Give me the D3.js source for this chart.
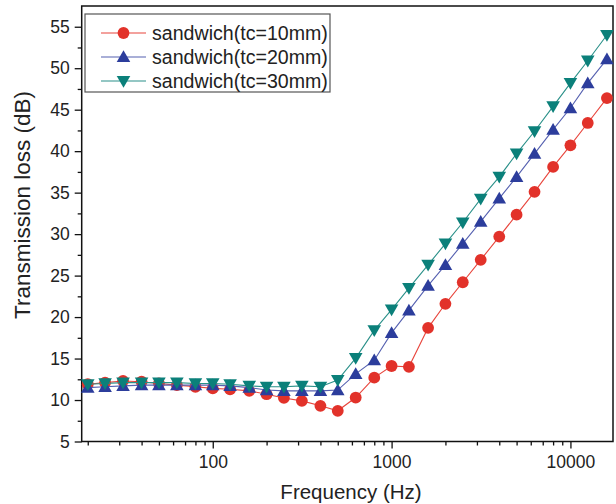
<!DOCTYPE html>
<html><head><meta charset="utf-8">
<script src="https://cdn.jsdelivr.net/npm/d3@7/dist/d3.min.js"></script>
<style>
html,body{margin:0;padding:0;background:#fff;}
svg{display:block;font-family:"Liberation Sans",Arial,Helvetica,sans-serif;}
</style></head>
<body>
<svg id="chart" width="616" height="504"></svg>
<script>
const freqs = [20,25,31.5,40,50,63,80,100,125,160,200,250,315,400,500,630,800,1000,1250,1600,2000,2500,3150,4000,5000,6300,8000,10000,12500,16000];
const tl10 = [11.9,12.1,12.3,12.2,12.0,11.8,11.6,11.4,11.3,11.1,10.7,10.25,9.9,9.3,8.7,10.3,12.7,14.1,14.0,18.7,21.6,24.2,26.9,29.7,32.35,35.1,38.1,40.7,43.4,46.4];
const tl20 = [11.5,11.6,11.7,11.8,11.8,11.8,11.8,11.8,11.7,11.5,11.2,11.1,11.1,11.1,11.2,13.15,14.8,18.1,20.8,23.8,26.3,28.85,31.5,34.3,36.9,39.7,42.6,45.2,48.2,51.1];
const tl30 = [11.9,12.0,12.1,12.1,12.1,12.1,12.0,12.0,11.9,11.7,11.6,11.6,11.7,11.6,12.4,15.05,18.4,20.9,23.5,26.3,28.85,31.4,34.25,36.9,39.7,42.4,45.4,48.2,50.9,54.0];
const seriesNames = ["sandwich(tc=10mm)","sandwich(tc=20mm)","sandwich(tc=30mm)"];
const seriesColors = ["#e2322a","#2c3d9c","#0b807a"];
const lineColors = ["#e8453c","#5560b0","#2a9089"];
const seriesSymbols = ["circle","up","down"];
const yTicks = [5,10,15,20,25,30,35,40,45,50,55];
const xTicks = [100,1000,10000];
const xDomain = [18.5,17300];
const yDomain = [5,57.5];

const L=81.7, R=613, T=6, B=441.5;
const svg = d3.select("#chart");
const x = d3.scaleLog().domain(xDomain).range([L,R]);
const y = d3.scaleLinear().domain(yDomain).range([B,T]);

// minor ticks
const xMinor = [];
[10,100,1000,10000].forEach(d=>{for(let k=2;k<=9;k++){const v=d*k; if(v>=xDomain[0]&&v<=xDomain[1]) xMinor.push(v);} });
const yMinor = [];
for(let v=7.5; v<57.5; v+=5) yMinor.push(v);

const gx = svg.append("g").attr("transform",`translate(0,${B})`);
gx.call(d3.axisBottom(x).tickValues(xMinor).tickSize(4).tickFormat(""));
gx.call(g=>g.selectAll(".domain").remove());
const gx2 = svg.append("g").attr("transform",`translate(0,${B})`)
  .call(d3.axisBottom(x).tickValues(xTicks).tickSize(7).tickPadding(7).tickFormat(d3.format("d")));
gx2.select(".domain").remove();
const gy = svg.append("g").attr("transform",`translate(${L},0)`);
gy.call(d3.axisLeft(y).tickValues(yMinor).tickSize(4).tickFormat(""));
gy.call(g=>g.selectAll(".domain").remove());
const gy2 = svg.append("g").attr("transform",`translate(${L},0)`)
  .call(d3.axisLeft(y).tickValues(yTicks).tickSize(7).tickPadding(5));
gy2.select(".domain").remove();
svg.selectAll(".tick line").attr("stroke","#111").attr("stroke-width",1.3);
svg.selectAll(".tick text").attr("font-size",17.5).attr("fill","#222").attr("font-family","Liberation Sans, Arial, sans-serif");

// frame
svg.append("rect").attr("x",L).attr("y",T).attr("width",R-L).attr("height",B-T)
  .attr("fill","none").attr("stroke","#111").attr("stroke-width",1.5);

const symUp = d3.symbol().type(d3.symbolTriangle).size(80);
function drawMarker(g, type, cx, cy, color){
  if(type==="circle"){
    g.append("circle").attr("cx",cx).attr("cy",cy).attr("r",5.9).attr("fill",color);
  } else {
    const rot = type==="down"?180:0;
    const off = type==="down"? -1.2 : 1.2;
    g.append("path").attr("d",symUp()).attr("fill",color)
      .attr("transform",`translate(${cx},${cy+off}) rotate(${rot})`);
  }
}

const data = [tl10,tl20,tl30];
const line = d3.line().x((d,i)=>x(freqs[i])).y(d=>y(d));
data.forEach((vals,si)=>{
  const g = svg.append("g");
  g.append("path").attr("d",line(vals)).attr("fill","none").attr("stroke",lineColors[si]).attr("stroke-width",1.1);
  vals.forEach((v,i)=>drawMarker(g, seriesSymbols[si], x(freqs[i]), y(v), seriesColors[si]));
});

// legend
const lg = svg.append("g");
lg.append("rect").attr("x",85).attr("y",14).attr("width",245).attr("height",78)
  .attr("fill","#fff").attr("stroke","#555").attr("stroke-width",1.2);
seriesNames.forEach((name,i)=>{
  const cy = 33 + i*24;
  lg.append("line").attr("x1",101).attr("x2",146).attr("y1",cy).attr("y2",cy).attr("stroke",lineColors[i]).attr("stroke-width",1.1);
  drawMarker(lg, seriesSymbols[i], 123.5, cy, seriesColors[i]);
  lg.append("text").attr("x",152).attr("y",cy+6.5).attr("font-size",19.6).attr("fill","#222").text(name);
});

// axis titles
svg.append("text").attr("x",351).attr("y",499).attr("text-anchor","middle").attr("font-size",20.5).attr("fill","#222").text("Frequency (Hz)");
svg.append("text").attr("transform","translate(30,205) rotate(-90)").attr("text-anchor","middle").attr("font-size",22.5).attr("fill","#222").text("Transmission loss (dB)");
</script>
</body></html>
